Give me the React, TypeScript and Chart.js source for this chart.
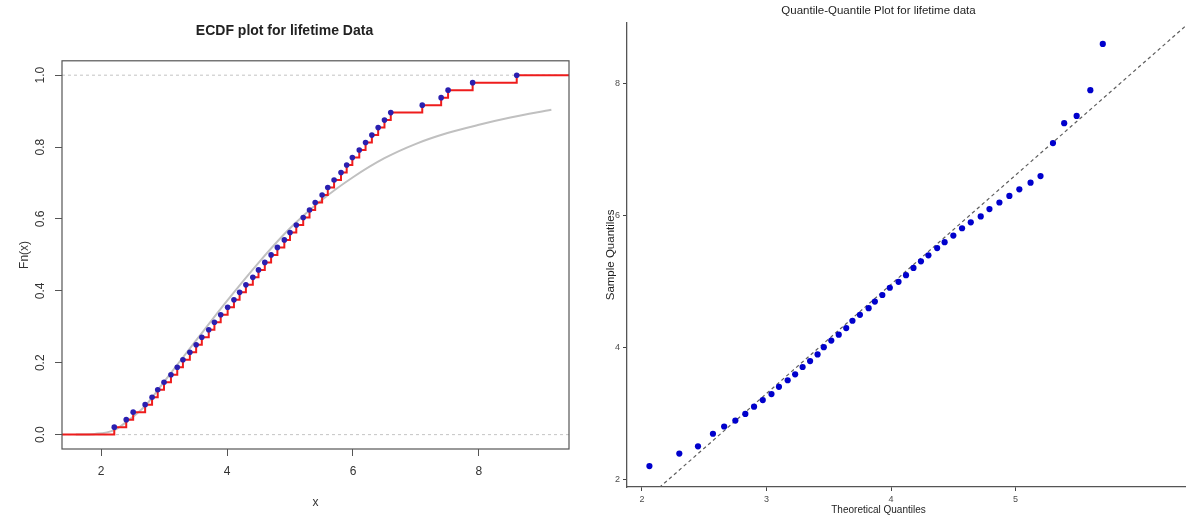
import React, { useEffect, useRef } from 'react';
import { Chart, registerables } from 'chart.js';

Chart.register(...registerables);

// ---- data ----
const sampleValues = [
  2.21, 2.40, 2.51, 2.70, 2.81, 2.90, 3.00, 3.11, 3.21, 3.30, 3.41, 3.51,
  3.60, 3.71, 3.80, 3.90, 4.01, 4.11, 4.20, 4.30, 4.41, 4.50, 4.60, 4.70,
  4.80, 4.91, 5.00, 5.10, 5.21, 5.31, 5.40, 5.51, 5.60, 5.70, 5.81, 5.90,
  5.99, 6.10, 6.20, 6.30, 6.40, 6.50, 6.60, 7.10, 7.40, 7.51, 7.90, 8.60,
];
const theoreticalQuantiles = [
  2.06, 2.30, 2.45, 2.57, 2.66, 2.75, 2.83, 2.90, 2.97, 3.04, 3.10, 3.17,
  3.23, 3.29, 3.35, 3.41, 3.46, 3.52, 3.58, 3.64, 3.69, 3.75, 3.82, 3.87,
  3.93, 3.99, 4.06, 4.12, 4.18, 4.24, 4.30, 4.37, 4.43, 4.50, 4.57, 4.64,
  4.72, 4.79, 4.87, 4.95, 5.03, 5.12, 5.20, 5.30, 5.39, 5.49, 5.60, 5.70,
];
const fittedCdfX = [1.6, 1.9, 2.2, 2.4, 2.7, 3.0, 3.5, 4.0, 4.5, 5.0, 5.5, 6.0, 6.5, 7.0, 7.5, 8.0, 8.5, 9.15];
const fittedCdfF = [0, 0.002, 0.012, 0.035, 0.08, 0.147, 0.26, 0.372, 0.478, 0.574, 0.652, 0.716, 0.769, 0.809, 0.839, 0.862, 0.882, 0.904];
const qqLineX = [2.10, 6.40];
const qqLineY = [1.82, 8.93];
const referenceLevels = [0, 1];

const ecdfXTicks = [2, 4, 6, 8];
const ecdfYTicks = [0, 0.2, 0.4, 0.6, 0.8, 1.0];
const qqXTicks = [2, 3, 4, 5];
const qqYTicks = [2, 4, 6, 8];

const ECDF_X_MIN = 1.38;
const ECDF_X_MAX = 9.43;
const ECDF_Y_MIN = -0.04;
const ECDF_Y_MAX = 1.04;
const QQ_X_MIN = 1.88;
const QQ_X_MAX = 6.36;
const QQ_Y_MIN = 1.894;
const QQ_Y_MAX = 8.92;

const FONT = 'Liberation Sans, Arial, Helvetica, sans-serif';

const boxPlugin = {
  id: 'rbox',
  afterDatasetsDraw(chart: any) {
    const { ctx, chartArea: a } = chart;
    ctx.save();
    ctx.strokeStyle = '#555';
    ctx.lineWidth = 1.2;
    ctx.strokeRect(a.left, a.top, a.right - a.left, a.bottom - a.top);
    ctx.restore();
  },
};

function EcdfChart() {
  const ref = useRef<HTMLCanvasElement | null>(null);
  useEffect(() => {
    if (!ref.current) return;
    const n = sampleValues.length;
    const ecdfLevels = sampleValues.map((_, i) => (i + 1) / n);
    const dots = sampleValues.map((v, i) => ({ x: v, y: ecdfLevels[i] }));
    const steps = [
      { x: ECDF_X_MIN, y: 0 },
      ...dots,
      { x: ECDF_X_MAX, y: 1 },
    ];
    const fitted = fittedCdfX.map((x, i) => ({ x, y: fittedCdfF[i] }));
    const refSets = referenceLevels.map((lv) => ({
      data: [{ x: ECDF_X_MIN, y: lv }, { x: ECDF_X_MAX, y: lv }],
      showLine: true,
      borderColor: '#c4c4c4',
      borderWidth: 1,
      borderDash: [3, 3],
      pointRadius: 0,
    }));
    const chart = new Chart(ref.current, {
      type: 'scatter',
      data: {
        datasets: [
          {
            data: dots,
            pointRadius: 2.8,
            pointBackgroundColor: '#2a1fb0',
            pointBorderColor: '#2a1fb0',
            pointBorderWidth: 0,
            showLine: false,
          },
          {
            data: steps,
            showLine: true,
            stepped: 'before',
            borderColor: '#ee1c1c',
            borderWidth: 2,
            pointRadius: 0,
          },
          {
            data: fitted,
            showLine: true,
            cubicInterpolationMode: 'monotone',
            borderColor: '#c0c0c0',
            borderWidth: 2,
            pointRadius: 0,
          },
          ...refSets,
        ] as any,
      },
      options: {
        animation: false,
        responsive: false,
        layout: { padding: { left: 0, right: 63, top: 0, bottom: 0 } },
        plugins: {
          legend: { display: false },
          tooltip: { enabled: false },
          title: {
            display: true,
            text: 'ECDF plot for lifetime Data',
            color: '#222',
            font: { family: FONT, size: 14, weight: 'bold' },
            padding: { top: 23, bottom: 21 },
          },
        },
        scales: {
          x: {
            type: 'linear',
            min: ECDF_X_MIN,
            max: ECDF_X_MAX,
            afterBuildTicks: (s: any) => {
              s.ticks = ecdfXTicks.map((v) => ({ value: v }));
            },
            afterFit: (s: any) => {
              s.height = 78;
            },
            grid: { drawOnChartArea: false, drawTicks: true, tickLength: 7, tickColor: '#555' },
            border: { display: false },
            ticks: {
              color: '#333',
              font: { family: FONT, size: 12 },
              padding: 8,
              maxRotation: 0,
              autoSkip: false,
              callback: (v: any) => String(v),
            },
            title: {
              display: true,
              text: 'x',
              color: '#333',
              font: { family: FONT, size: 12 },
              padding: { top: 0, bottom: 17 },
            },
          },
          y: {
            type: 'linear',
            min: ECDF_Y_MIN,
            max: ECDF_Y_MAX,
            afterBuildTicks: (s: any) => {
              s.ticks = ecdfYTicks.map((v) => ({ value: v }));
            },
            afterFit: (s: any) => {
              s.width = 62;
            },
            grid: { drawOnChartArea: false, drawTicks: true, tickLength: 7, tickColor: '#555' },
            border: { display: false },
            ticks: {
              color: '#333',
              font: { family: FONT, size: 12 },
              padding: 6,
              minRotation: 90,
              maxRotation: 90,
              crossAlign: 'center',
              autoSkip: false,
              callback: (v: any) => Number(v).toFixed(1),
            },
            title: {
              display: true,
              text: 'Fn(x)',
              color: '#333',
              font: { family: FONT, size: 12 },
              padding: { top: 17, bottom: 0 },
            },
          },
        },
      } as any,
      plugins: [boxPlugin],
    });
    return () => chart.destroy();
  }, []);
  return (
    <canvas
      ref={ref}
      width={632}
      height={527}
      style={{ position: 'absolute', left: 0, top: 0, width: 632, height: 527 }}
    />
  );
}

function QQChart() {
  const ref = useRef<HTMLCanvasElement | null>(null);
  useEffect(() => {
    if (!ref.current) return;
    const pts = theoreticalQuantiles.map((x, i) => ({ x, y: sampleValues[i] }));
    const line = qqLineX.map((x, i) => ({ x, y: qqLineY[i] }));
    const chart = new Chart(ref.current, {
      type: 'scatter',
      data: {
        datasets: [
          {
            data: pts,
            pointRadius: 3.1,
            pointBackgroundColor: '#0000cc',
            pointBorderColor: '#0000cc',
            pointBorderWidth: 0,
            showLine: false,
          },
          {
            data: line,
            showLine: true,
            borderColor: '#5e5e5e',
            borderWidth: 1.2,
            borderDash: [3.5, 3],
            pointRadius: 0,
          },
        ] as any,
      },
      options: {
        animation: false,
        responsive: false,
        layout: { padding: 0 },
        plugins: {
          legend: { display: false },
          tooltip: { enabled: false },
          title: {
            display: true,
            text: 'Quantile-Quantile Plot for lifetime data',
            color: '#1e1e1e',
            font: { family: FONT, size: 11.5, weight: 'normal' },
            padding: { top: 4, bottom: 5 },
          },
          subtitle: {
            display: true,
            position: 'bottom',
            text: 'Theoretical Quantiles',
            color: '#1e1e1e',
            font: { family: FONT, size: 10 },
            padding: { top: 0, bottom: 11 },
          },
        },
        scales: {
          x: {
            type: 'linear',
            min: QQ_X_MIN,
            max: QQ_X_MAX,
            afterBuildTicks: (s: any) => {
              s.ticks = qqXTicks.map((v) => ({ value: v }));
            },
            afterFit: (s: any) => {
              s.height = 17;
            },
            grid: { drawOnChartArea: false, drawTicks: true, tickLength: 4, tickColor: '#444' },
            border: { display: true, color: '#555', width: 1.3 },
            ticks: {
              color: '#4d4d4d',
              font: { family: FONT, size: 9 },
              padding: 3,
              maxRotation: 0,
              autoSkip: false,
              callback: (v: any) => String(v),
            },
          },
          y: {
            type: 'linear',
            min: QQ_Y_MIN,
            max: QQ_Y_MAX,
            afterBuildTicks: (s: any) => {
              s.ticks = qqYTicks.map((v) => ({ value: v }));
            },
            afterFit: (s: any) => {
              s.width = 59;
            },
            grid: { drawOnChartArea: false, drawTicks: true, tickLength: 4, tickColor: '#444' },
            border: { display: true, color: '#555', width: 1.3 },
            ticks: {
              color: '#4d4d4d',
              font: { family: FONT, size: 9 },
              padding: 3,
              autoSkip: false,
              callback: (v: any) => String(v),
            },
            title: {
              display: true,
              text: 'Sample Quantiles',
              color: '#1e1e1e',
              font: { family: FONT, size: 11.5 },
              padding: { top: 36, bottom: 0 },
            },
          },
        },
      } as any,
    });
    return () => chart.destroy();
  }, []);
  return (
    <canvas
      ref={ref}
      width={621}
      height={527}
      style={{ position: 'absolute', left: 568, top: 0, width: 621, height: 527 }}
    />
  );
}

export default function App() {
  return (
    <div
      style={{
        position: 'fixed',
        left: 0,
        top: 0,
        width: 1189,
        height: 527,
        background: '#ffffff',
        overflow: 'hidden',
      }}
    >
      <EcdfChart />
      <QQChart />
    </div>
  );
}
